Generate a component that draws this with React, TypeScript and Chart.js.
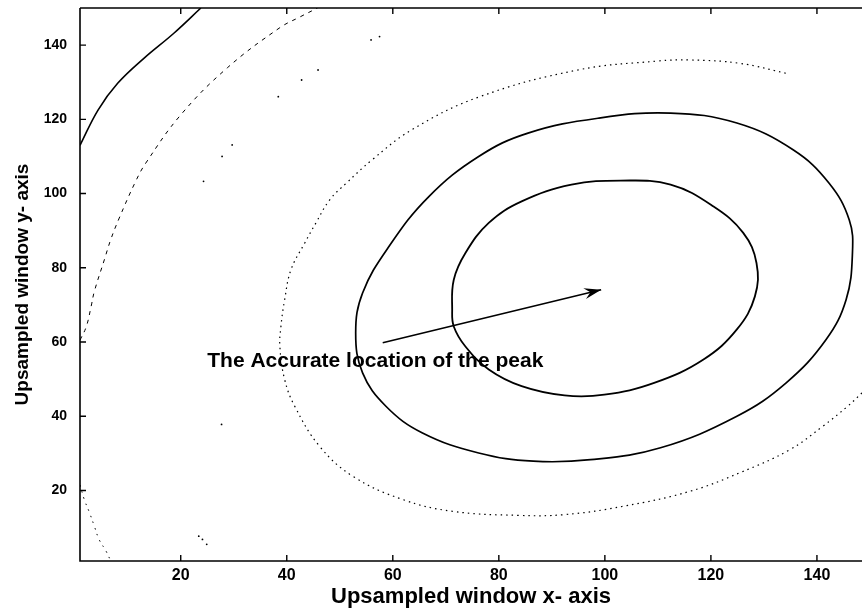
import { useEffect, useRef } from "react";
import { Chart, registerables } from "chart.js";

Chart.register(...registerables);

// Axis ticks
const xTicks = [20, 40, 60, 80, 100, 120, 140];
const yTicks = [20, 40, 60, 80, 100, 120, 140];

// Innermost closed contour
const innerX = [71.2, 71.5, 73.7, 78.1, 84.3, 93.7, 103.0, 112.4, 120.5, 126.1, 128.6, 128.3, 124.9, 118.6, 109.3, 99.9, 92.4, 84.3, 78.1, 73.7, 71.5];
const innerY = [68.7, 76.8, 84.0, 92.1, 97.9, 102.4, 103.5, 102.4, 96.5, 89.4, 81.3, 72.3, 63.4, 55.3, 49.0, 45.8, 45.6, 48.1, 52.6, 58.8, 64.2];

// Second closed contour
const secondX = [53.0, 54.3, 59.3, 66.8, 76.2, 85.5, 98.7, 112.4, 124.9, 135.5, 142.3, 146.1, 146.7, 145.5, 141.7, 134.2, 124.9, 110.5, 97.3, 86.5, 76.2, 65.6, 58.7, 54.3];
const secondY = [62.4, 73.2, 85.8, 99.2, 110.0, 116.3, 120.3, 121.7, 119.0, 111.8, 102.8, 92.9, 84.0, 71.4, 60.6, 49.0, 40.0, 31.5, 28.3, 27.9, 30.1, 35.5, 42.7, 51.7];

// Third contour (dotted), open at the right edge
const thirdX = [148.5, 145.8, 141.1, 134.9, 125.5, 116.1, 103.7, 92.4, 83.7, 71.2, 61.8, 52.5, 46.2, 41.5, 39.6, 38.7, 38.9, 39.6, 40.8, 43.4, 45.5, 48.1, 51.3, 56.1, 63.6, 76.2, 94.9, 109.9, 116.1, 125.4, 134.8];
const thirdY = [46.3, 42.7, 37.3, 31.0, 24.8, 19.8, 15.8, 13.5, 13.3, 14.4, 17.6, 23.8, 31.9, 42.7, 49.9, 58.8, 64.2, 71.4, 79.5, 86.7, 92.1, 98.3, 102.9, 109.1, 117.2, 126.0, 133.3, 135.7, 136.0, 135.1, 132.2];

// Fourth contour (dashed), upper left
const fourthX = [1.0, 2.2, 3.1, 3.7, 5.6, 6.8, 8.4, 11.5, 13.4, 20.0, 28.8, 38.7, 42.5, 45.8];
const fourthY = [60.5, 64.2, 69.6, 73.6, 82.2, 87.6, 93.4, 103.3, 108.2, 121.2, 133.9, 144.7, 147.6, 150.0];

// Faint contour fragments
const faintX = [23.4, 24.1, 24.9, 27.7, 24.3, 27.8, 29.7, 38.4, 42.8, 45.9, 55.9, 57.5];
const faintY = [7.7, 6.8, 5.5, 37.8, 103.3, 110.0, 113.1, 126.1, 130.6, 133.3, 141.4, 142.3];

// Lower-left dotted contour
const cornerX = [1.0, 1.8, 2.8, 3.7, 4.6, 5.9, 6.8];
const cornerY = [21.5, 17.6, 14.0, 10.4, 6.8, 3.7, 1.0];

// Upper-left solid contour
const outerX = [1.0, 4.4, 8.1, 13.1, 18.7, 23.8];
const outerY = [113.0, 122.5, 129.7, 136.5, 143.2, 150.0];

// Arrow to the peak
const arrowX = [58.1, 99.3];
const arrowY = [59.8, 74.1];

const annotationText = "The Accurate location of the peak";
const annotationX = 25.0;
const annotationY = 53.3;

const FONT = '"Liberation Sans", Arial, Helvetica, sans-serif';

const pts = (xs: number[], ys: number[]) => xs.map((x, i) => ({ x, y: ys[i] }));

// A closed loop: wrap one point on each side so the spline is smooth at the seam,
// then hide the two wrap-around end segments.
const loopPts = (xs: number[], ys: number[]) => {
  const p = pts(xs, ys);
  const n = p.length;
  return [p[n - 1], ...p, p[0], p[1]];
};

const decorPlugin = {
  id: "decor",
  afterDatasetsDraw(chart: any) {
    const { ctx, chartArea: a, scales } = chart;
    const xs = scales.x;
    const ys = scales.y;
    ctx.save();

    // arrow head
    const x0 = xs.getPixelForValue(arrowX[0]);
    const y0 = ys.getPixelForValue(arrowY[0]);
    const x1 = xs.getPixelForValue(arrowX[1]);
    const y1 = ys.getPixelForValue(arrowY[1]);
    const ang = Math.atan2(y1 - y0, x1 - x0);
    const c = Math.cos(ang);
    const s = Math.sin(ang);
    const len = 17;
    const half = 5.5;
    ctx.fillStyle = "#000";
    ctx.beginPath();
    ctx.moveTo(x1, y1);
    ctx.lineTo(x1 - len * c - half * s, y1 - len * s + half * c);
    ctx.lineTo(x1 - len * 0.65 * c, y1 - len * 0.65 * s);
    ctx.lineTo(x1 - len * c + half * s, y1 - len * s - half * c);
    ctx.closePath();
    ctx.fill();

    // annotation
    ctx.font = `bold 21px ${FONT}`;
    ctx.textAlign = "left";
    ctx.textBaseline = "alphabetic";
    ctx.fillText(annotationText, xs.getPixelForValue(annotationX), ys.getPixelForValue(annotationY));

    // axes frame
    ctx.strokeStyle = "#000";
    ctx.lineWidth = 1.6;
    ctx.beginPath();
    ctx.moveTo(a.left, a.top);
    ctx.lineTo(a.right, a.top);
    ctx.moveTo(a.left, a.top);
    ctx.lineTo(a.left, a.bottom);
    ctx.lineTo(a.right, a.bottom);
    ctx.stroke();

    // inward tick marks
    ctx.lineWidth = 1.4;
    ctx.beginPath();
    for (const v of xTicks) {
      const p = xs.getPixelForValue(v);
      ctx.moveTo(p, a.bottom);
      ctx.lineTo(p, a.bottom - 6);
      ctx.moveTo(p, a.top);
      ctx.lineTo(p, a.top + 6);
    }
    for (const v of yTicks) {
      const p = ys.getPixelForValue(v);
      ctx.moveTo(a.left, p);
      ctx.lineTo(a.left + 6, p);
    }
    ctx.stroke();
    ctx.restore();
  },
};

export default function App() {
  const ref = useRef<HTMLCanvasElement | null>(null);

  useEffect(() => {
    if (!ref.current) return;
    const line = (xs: number[], ys: number[], width: number, dash: number[] = []) => ({
      data: pts(xs, ys),
      showLine: true,
      borderColor: "#000",
      borderWidth: width,
      borderDash: dash,
      pointRadius: 0,
      tension: 0.4,
      fill: false,
    });
    const loop = (xs: number[], ys: number[], width: number) => {
      const data = loopPts(xs, ys);
      const last = data.length - 1;
      return {
        data,
        showLine: true,
        borderColor: "#000",
        borderWidth: width,
        pointRadius: 0,
        tension: 0.4,
        fill: false,
        segment: {
          borderColor: (sc: any) =>
            sc.p0DataIndex === 0 || sc.p1DataIndex === last ? "rgba(0,0,0,0)" : "#000",
        },
      };
    };
    const chart = new Chart(ref.current, {
      type: "scatter",
      data: {
        datasets: [
          loop(innerX, innerY, 1.8),
          loop(secondX, secondY, 1.7),
          line(thirdX, thirdY, 1.2, [1.5, 4]),
          line(fourthX, fourthY, 1.0, [4, 5]),
          line(cornerX, cornerY, 1.0, [1.5, 5]),
          line(outerX, outerY, 1.6),
          line(arrowX, arrowY, 1.6),
          {
            data: pts(faintX, faintY),
            showLine: false,
            pointRadius: 0.9,
            pointBorderWidth: 0,
            pointBackgroundColor: "#000",
          },
        ],
      },
      options: {
        animation: false,
        responsive: false,
        events: [],
        layout: { padding: { top: 8, right: 0, left: 0, bottom: 0 } },
        plugins: { legend: { display: false }, tooltip: { enabled: false } },
        scales: {
          x: {
            type: "linear",
            min: 1,
            max: 148.5,
            grid: { display: false, drawTicks: false },
            border: { display: false },
            afterBuildTicks: (scale: any) => {
              scale.ticks = xTicks.map((value) => ({ value }));
            },
            afterFit: (scale: any) => {
              scale.height = 50;
              scale.paddingLeft = 0;
              scale.paddingRight = 0;
            },
            ticks: {
              color: "#000",
              padding: 5,
              font: { family: FONT, size: 16, weight: "bold" },
            },
            title: {
              display: true,
              text: "Upsampled window x- axis",
              color: "#000",
              padding: { top: 0, bottom: 1.2 },
              font: { family: FONT, size: 22, weight: "bold" },
            },
          },
          y: {
            type: "linear",
            min: 1,
            max: 150,
            grid: { display: false, drawTicks: false },
            border: { display: false },
            afterBuildTicks: (scale: any) => {
              scale.ticks = yTicks.map((value) => ({ value }));
            },
            afterFit: (scale: any) => {
              scale.width = 80;
              scale.paddingTop = 0;
              scale.paddingBottom = 0;
            },
            ticks: {
              color: "#000",
              padding: 13,
              font: { family: FONT, size: 14, weight: "bold" },
            },
            title: {
              display: true,
              text: "Upsampled window y- axis",
              color: "#000",
              padding: { top: 11.6, bottom: 0 },
              font: { family: FONT, size: 19, weight: "bold" },
            },
          },
        },
      },
      plugins: [decorPlugin],
    });
    return () => chart.destroy();
  }, []);

  return (
    <div style={{ position: "fixed", left: 0, top: 0, width: 866, height: 611, background: "#fff" }}>
      <canvas ref={ref} width={866} height={611} style={{ display: "block" }} />
    </div>
  );
}
